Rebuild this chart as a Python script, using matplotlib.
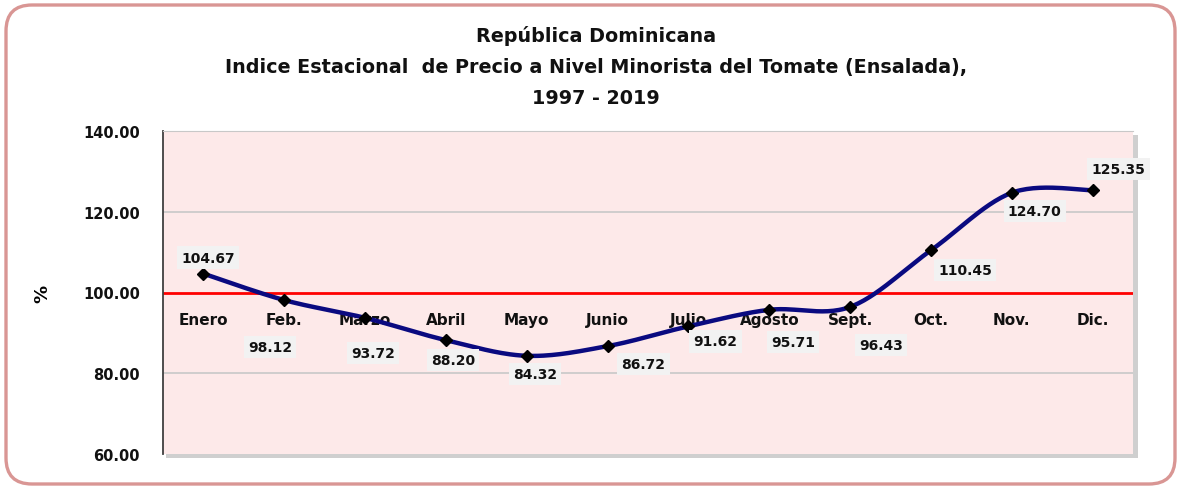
import numpy as np
import matplotlib
matplotlib.use("Agg")
import matplotlib.pyplot as plt
from matplotlib.patches import FancyBboxPatch, Rectangle

months = ["Enero", "Feb.", "Marzo", "Abril", "Mayo", "Junio", "Julio",
          "Agosto", "Sept.", "Oct.", "Nov.", "Dic."]
values = [104.67, 98.12, 93.72, 88.20, 84.32, 86.72, 91.62,
          95.71, 96.43, 110.45, 124.70, 125.35]
yticks = [60, 80, 100, 120, 140]
title_lines = ["República Dominicana",
               "Indice Estacional  de Precio a Nivel Minorista del Tomate (Ensalada),",
               "1997 - 2019"]

# label offsets in pixels (dx right, dy down)
label_offsets = [(5, -16), (-14, 47), (8, 35), (7, 20), (8, 18), (36, 18),
                 (27, 15), (24, 32), (31, 38), (34, 20), (23, 18), (26, -21)]

W, H = 1181, 489
fig = plt.figure(figsize=(W / 100, H / 100), dpi=100)
fig.patch.set_facecolor("white")

# outer rounded border
border = FancyBboxPatch((6 / W, 4 / H), (W - 12) / W, (H - 10) / H,
                        boxstyle="round,pad=0,rounding_size=0.022",
                        transform=fig.transFigure, facecolor="white",
                        edgecolor="#D99694", linewidth=2.4, zorder=0,
                        mutation_aspect=W / H)
fig.patches.append(border)

L, R, T, B = 163, 1133, 132, 455
ax = fig.add_axes([L / W, 1 - B / H, (R - L) / W, (B - T) / H])
ax.set_zorder(5)

# shadow of plot area
shadow = Rectangle(((L + 3) / W, 1 - (B + 4) / H), (R - L + 2) / W, (B - T) / H,
                   transform=fig.transFigure, facecolor="#cfcfcf",
                   edgecolor="none", zorder=1)
fig.patches.append(shadow)

ax.set_facecolor("#FDE9E9")
ax.set_xlim(-0.5, len(months) - 0.5)
ax.set_ylim(60, 140)
ax.set_yticks(yticks)
ax.set_yticklabels([f"{v:.2f}" for v in yticks], fontsize=10.5,
                   fontweight="bold", color="#111111")
ax.tick_params(axis="y", length=0, pad=16.5)
ax.set_xticks([])
for s in ["right", "bottom"]:
    ax.spines[s].set_visible(False)
ax.spines["top"].set_color("#c8c8c8")
ax.spines["left"].set_color("#404040")
ax.spines["left"].set_linewidth(1.3)

for g in [80, 120]:
    ax.axhline(g, color="#c8c8c8", linewidth=1.2, zorder=1)
ax.axhline(100, color="#ff0000", linewidth=2, zorder=2)

# category labels just below the 100 line
for i, m in enumerate(months):
    ax.annotate(m, (i, 100), xytext=(0, -27), textcoords="offset pixels",
                ha="center", va="center", fontsize=11, fontweight="bold",
                color="#111111", zorder=3)

# smooth curve (Excel-style Catmull-Rom Bezier)
x = np.arange(len(values), dtype=float)
y = np.array(values, dtype=float)
P = np.column_stack([x, y])
n = len(P)
curve = []
t = np.linspace(0, 1, 30)
for i in range(n - 1):
    p0 = P[i - 1] if i > 0 else P[i]
    p1 = P[i]
    p2 = P[i + 1]
    p3 = P[i + 2] if i + 2 < n else P[i + 1]
    c1 = p1 + (p2 - p0) / 6
    c2 = p2 - (p3 - p1) / 6
    seg = ((1 - t) ** 3)[:, None] * p1 + (3 * (1 - t) ** 2 * t)[:, None] * c1 \
        + (3 * (1 - t) * t ** 2)[:, None] * c2 + (t ** 3)[:, None] * p2
    curve.append(seg)
curve = np.vstack(curve)
ax.plot(curve[:, 0], curve[:, 1], color="#0a0a80", linewidth=3.2,
        solid_capstyle="round", zorder=4)
ax.plot(x, y, linestyle="none", marker="D", markersize=6.5,
        color="black", zorder=5)

for i, v in enumerate(values):
    dx, dy = label_offsets[i]
    ax.annotate(f"{v:.2f}", (i, v), xytext=(dx, -dy), textcoords="offset pixels",
                ha="center", va="center", fontsize=10, fontweight="bold",
                color="#111111", zorder=6,
                bbox=dict(boxstyle="square,pad=0.3", facecolor="#f2f2f2",
                          edgecolor="none"))

ax.set_ylabel("%", fontsize=13, fontweight="bold")
ax.yaxis.set_label_coords(-112 / (R - L), 0.5)

ys = [36, 68, 99]
for line, yy in zip(title_lines, ys):
    fig.text(596 / W, 1 - yy / H, line, ha="center",
             va="center", fontsize=13.8, fontweight="bold", color="#111111")

fig.savefig("out.png", dpi=100, facecolor="white")
